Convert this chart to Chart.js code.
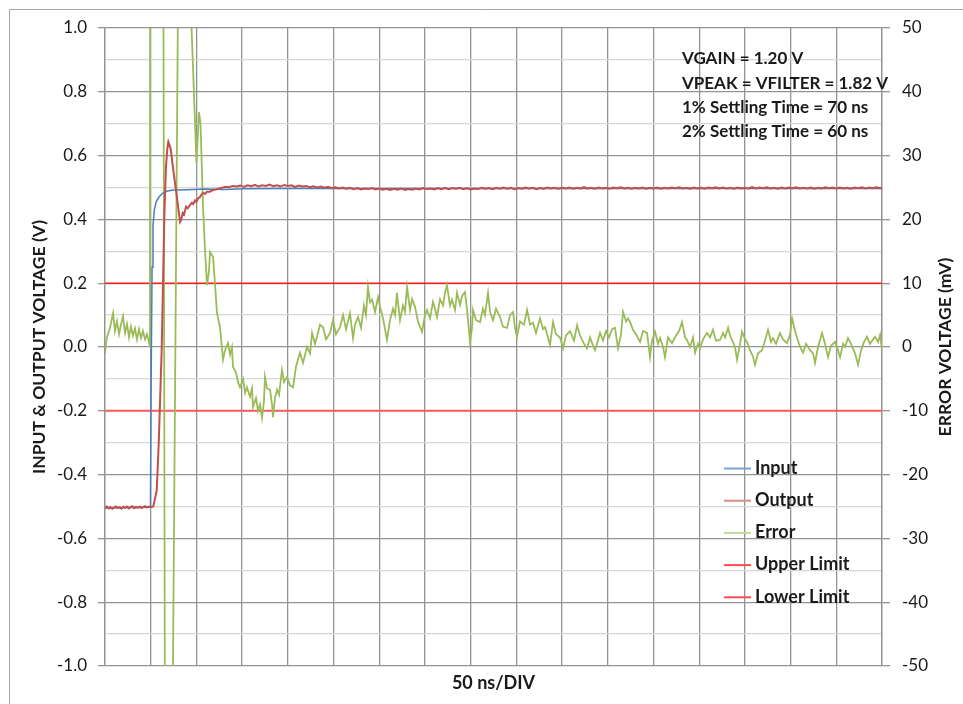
<!DOCTYPE html>
<html>
<head>
<meta charset="utf-8">
<script src="https://cdn.jsdelivr.net/npm/chart.js@4/dist/chart.umd.min.js"></script>
<style>
html,body{margin:0;padding:0;background:#fff;}
#wrap{width:963px;height:704px;}
</style>
</head>
<body>
<div id="wrap"><canvas id="c" width="963" height="704"></canvas></div>
<script>
// ---------------- DATA (time in ns, voltages in V, error in mV) ----------------
const seriesNames = ["Input", "Output", "Error", "Upper Limit", "Lower Limit"];
const annotationLines = ["VGAIN = 1.20 V", "VPEAK = VFILTER = 1.82 V", "1% Settling Time = 70 ns", "2% Settling Time = 60 ns"];
const xAxisTitle = "50 ns/DIV";
const leftAxisTitle = "INPUT & OUTPUT VOLTAGE (V)";
const rightAxisTitle = "ERROR VOLTAGE (mV)";
const timeRangeNs = [0, 850];
const timePerDivNs = 50;
const voltRange = [-1.0, 1.0];
const errorRangeMv = [-50, 50];
const upperLimitMv = 10;
const lowerLimitMv = -10;

const inputPts = [[0,-0.505],[25,-0.503],[49.3,-0.502],[49.8,-0.45],[50.5,-0.1],[51.5,0.25],[52.5,0.38],[54,0.43],[56,0.455],[59,0.47],[63,0.482],[68,0.489],[75,0.492],[90,0.493],[110,0.495],[130,0.494],[150,0.496],[200,0.497],[850,0.497]];

const outputPts = [[0,-0.505],[2,-0.500],[4,-0.506],[6,-0.502],[8,-0.507],[10,-0.503],[12,-0.500],[14,-0.505],[16,-0.502],[18,-0.507],[20,-0.501],[22,-0.504],[24,-0.500],[26,-0.506],[28,-0.502],[30,-0.499],[32,-0.505],[34,-0.501],[36,-0.504],[38,-0.500],[40,-0.505],[42,-0.502],[44,-0.499],[46,-0.503],[48,-0.500],[50,-0.502],[52.8,-0.500],[56.6,-0.45],[58.8,-0.30],[62.0,-0.01],[63.8,0.25],[64.9,0.41],[66.7,0.565],[68.3,0.625],[69.3,0.643],[70.3,0.635],[71.9,0.62],[74,0.57],[76.6,0.514],[79.1,0.46],[82.1,0.392],[83.5,0.40],[85,0.42],[86.5,0.415],[88.6,0.44],[90.5,0.435],[93,0.445],[95,0.452],[96.5,0.448],[98.5,0.46],[100,0.455],[102.1,0.467],[104,0.470],[105.5,0.478],[107.5,0.483],[109.5,0.480],[111.5,0.487],[114.9,0.487],[118,0.492],[121,0.494],[123.5,0.496],[125.8,0.498],[129,0.500],[132,0.502],[135,0.501],[140,0.505],
[144,0.503],[148,0.506],[152,0.502],[156,0.507],[160,0.504],[164,0.508],[168,0.503],[172,0.507],[176,0.505],[180,0.509],[184,0.504],[188,0.507],[192,0.503],[196,0.508],[200,0.505],[204,0.507],[208,0.502],[212,0.506],[216,0.503],[220,0.505],[224,0.501],[228,0.504],[232,0.500],[236,0.503],[240,0.499],[244,0.502],[248,0.498],[252,0.501],[256,0.497],[260,0.500],[264,0.496],[268,0.499],[272,0.495],[276,0.498],[280,0.494],[284,0.497],[288,0.495],[292,0.498],[296,0.494],[300,0.497],[304,0.493],[308,0.496],[312,0.492],[316,0.496],[320,0.493],[324,0.497],[328,0.492],[332,0.495],[336,0.493],[340,0.497],[344,0.494],[348,0.498],[352,0.495],[356,0.497],[360,0.494],[364,0.498],[368,0.495],[372,0.499],[376,0.495],[380,0.498],[384,0.496],[388,0.499],[392,0.495],[396,0.498],[400,0.494],[404,0.497],[408,0.495],[412,0.499],[416,0.496],[420,0.498],[424,0.495],[428,0.499],[432,0.496],[436,0.500],[440,0.496],[444,0.499],[448,0.495],[452,0.498],[456,0.496],[460,0.500],[464,0.497],[468,0.499],[472,0.495],[476,0.498],[480,0.496],[484,0.500],[488,0.497],[492,0.499],[496,0.496],[500,0.499],[504,0.497],[508,0.500],[512,0.496],[516,0.499],[520,0.497],[524,0.501],[528,0.497],[532,0.499],[536,0.496],[540,0.500],[544,0.497],[548,0.499],[552,0.496],[556,0.500],[560,0.498],[564,0.501],[568,0.497],[572,0.499],[576,0.496],[580,0.499],[584,0.497],[588,0.500],[592,0.496],[596,0.499],[600,0.497],[604,0.500],[608,0.496],[612,0.499],[616,0.497],[620,0.500],[624,0.498],[628,0.501],[632,0.497],[636,0.499],[640,0.496],[644,0.500],[648,0.497],[652,0.499],[656,0.496],[660,0.500],[664,0.498],[668,0.501],[672,0.497],[676,0.500],[680,0.497],[684,0.499],[688,0.496],[692,0.500],[696,0.497],[700,0.499],[704,0.497],[708,0.501],[712,0.497],[716,0.500],[720,0.498],[724,0.501],[728,0.497],[732,0.499],[736,0.496],[740,0.500],[744,0.497],[748,0.500],[752,0.498],[756,0.501],[760,0.497],[764,0.499],[768,0.497],[772,0.500],[776,0.496],[780,0.499],[784,0.497],[788,0.501],[792,0.498],[796,0.500],[800,0.497],[804,0.500],[808,0.497],[812,0.499],[816,0.496],[820,0.500],[824,0.498],[828,0.501],[832,0.497],[836,0.500],[840,0.498],[844,0.501],[848,0.498],[850,0.500]];

const errorPts = [[0,-1.0],[2,1.5],[5.5,3.0],[8.8,5.3],[10.9,2.5],[13.1,4.0],[15.3,2.0],[17.5,3.5],[19.7,4.8],[21.9,2.2],[24.1,3.6],[26.3,1.5],[28.4,3.2],[30.6,1.8],[32.8,2.9],[35,1.2],[37.2,2.8],[39.4,1.4],[41.6,2.5],[43.8,1.2],[46,2.0],[48.1,0.8],[49.2,0.0],[49.5,200],[63.9,55],[65.5,-55],[74.1,-55],[79.9,55],[94.2,52],[100.1,28.8],[102.8,36.8],[104.5,35.0],[107.2,22.0],[109.4,15.2],[111.6,9.7],[113.8,12.0],[114.9,14.9],[118.2,14.1],[120.3,10.0],[122.5,5.3],[125.8,3.1],[127.5,0.5],[129.1,-2.0],[131.3,-0.5],[134.6,0.6],[136.8,-1.2],[138.9,0.0],[140,-3.1],[143.3,-4.0],[145.5,-5.5],[147.7,-6.3],[151,-5.0],[153.2,-7.2],[155.3,-6.3],[158.6,-7.8],[160.8,-6.5],[161.9,-9.4],[165.2,-8.0],[167.4,-10.0],[169.6,-9.0],[171.8,-11.1],[173.9,-8.5],[175,-4.7],[177.2,-6.5],[180.5,-6.7],[182.7,-9.0],[183.8,-11.0],[186,-8.0],[188.2,-6.7],[190.4,-7.5],[193.6,-3.6],[195.8,-5.5],[199.1,-4.7],[202.4,-6.0],[205.7,-6.3],[209,-3.0],[213.3,-0.9],[216.6,-2.5],[221,0.0],[224.3,-1.0],[226.5,2.2],[229.7,0.5],[231.9,1.6],[235.2,3.5],[238.5,3.1],[241.8,1.2],[246.2,2.2],[249.4,4.2],[252.7,2.0],[257.1,3.1],[260.4,5.0],[263.7,2.8],[268,5.3],[271.3,1.4],[273.5,3.5],[276.8,4.7],[280.1,3.0],[283.3,6.5],[285.5,5.0],[287.7,9.4],[289.9,7.0],[292.1,7.4],[295.4,5.5],[298.7,7.8],[300.9,6.3],[304.1,4.5],[308.5,1.1],[311.8,4.2],[315,6.0],[317.3,5.0],[319.4,8.5],[322.7,4.2],[326,6.5],[328.2,5.5],[330.4,9.4],[333.7,5.8],[335.9,7.5],[339.1,6.3],[342.4,4.0],[346.8,2.4],[350.1,5.0],[352.3,5.8],[355.6,4.5],[358.8,7.1],[361,6.0],[363.2,4.7],[366.5,7.5],[369.8,6.5],[372,8.5],[374.1,9.7],[377.4,6.5],[379.6,7.4],[382.9,5.8],[385.1,8.5],[388.4,6.6],[390.6,8.0],[393.8,8.6],[396,6.0],[399.3,0.8],[401.5,3.0],[402.6,5.8],[405.9,4.2],[410.3,3.9],[413.5,6.0],[415.7,5.0],[419,8.5],[421.2,5.5],[424.5,4.2],[427.8,6.0],[432.1,4.7],[435.4,3.2],[439.8,3.0],[443.1,5.0],[446.4,5.5],[448.5,3.0],[450.7,1.6],[454,4.0],[458.4,3.5],[461.7,5.8],[465,3.5],[468.2,3.8],[471.5,2.2],[475.9,4.5],[479.2,2.8],[481.4,3.1],[484.6,1.5],[486.8,0.3],[490.1,3.9],[493.4,2.0],[497.8,1.5],[501.1,-0.2],[504.3,1.8],[508.7,2.5],[513.1,1.0],[516.4,3.4],[519.7,1.8],[524,0.5],[527.3,-0.2],[530.6,1.5],[533.9,0.2],[536.1,-0.5],[539.3,1.0],[541.5,2.2],[544.8,1.0],[548.1,2.5],[551.4,1.5],[554.7,2.8],[557.9,3.0],[561.2,-0.2],[564.5,2.0],[566.7,5.5],[570,4.0],[572.2,4.5],[574.4,3.9],[577.6,2.7],[580.9,2.0],[585.3,0.8],[588.6,2.5],[593,2.2],[596.2,-1.6],[598.4,1.0],[601.7,2.4],[605,0.5],[607.2,1.4],[610.5,0.0],[612.6,-1.6],[615.9,1.5],[620.3,0.6],[624.7,1.8],[628,2.5],[631.2,3.9],[634.5,1.5],[636.7,1.1],[640,0.0],[643.3,1.5],[645.5,-0.9],[648.7,0.5],[650.9,-0.2],[654.2,1.2],[658.6,2.2],[661.9,1.5],[665.1,2.7],[668.4,1.0],[672.8,1.1],[676.1,2.2],[678.3,1.5],[681.6,3.0],[683.8,1.8],[685.9,1.1],[689.2,0.0],[691.4,-2.0],[694.7,0.5],[696.9,2.4],[700.2,1.2],[702.3,0.8],[705.6,-0.5],[708.9,-1.5],[711.1,-2.8],[714.4,-1.0],[718.8,-0.5],[722,1.0],[725.3,2.7],[728.6,0.8],[730.8,1.4],[734.1,0.5],[738.4,2.2],[741.7,1.2],[746.1,0.6],[749.4,2.0],[751.6,4.5],[754.9,2.5],[757.1,1.4],[760.3,0.0],[763.6,-0.9],[766.9,0.5],[771.3,-0.5],[774.6,-1.0],[776.7,-2.5],[780,0.0],[784.4,2.2],[787.7,0.5],[791,-1.6],[794.2,0.2],[798.6,0.8],[801.9,-0.5],[804.1,-1.6],[807.4,0.5],[809.6,0.0],[812.8,1.4],[816.1,0.5],[820.5,-1.0],[823.8,-2.8],[827.1,-0.5],[830.3,0.8],[833.6,1.6],[836.9,0.5],[840.2,1.2],[842.4,1.6],[845.7,0.8],[847.9,1.9],[850,-0.5]];

// ---------------- STYLE ----------------
const FONT = "Lato, 'Open Sans', sans-serif";
const colors = {
  input: '#4a7ebb', output: '#c0504d', error: '#9bbb59', upper: '#ff1a1a', lower: '#ff5a5a',
  gridMajor: '#939393', gridMinor: '#d6d6d6', text: '#1a1a1a'
};
const legendColors = ['#7ba2d6', '#d98c8a', '#c3d69b', '#ff4d4d', '#ff4d4d'];

const toXY = arr => arr.map(p => ({x: p[0], y: p[1]}));

const frameAndText = {
  id: 'frameAndText',
  beforeDraw(chart) {
    const ctx = chart.ctx;
    ctx.save();
    ctx.fillStyle = '#ffffff';
    ctx.fillRect(0, 0, chart.width, chart.height);
    ctx.strokeStyle = '#a6a6a6';
    ctx.lineWidth = 1;
    ctx.beginPath();
    ctx.moveTo(9.5, chart.height); ctx.lineTo(9.5, 9.5); ctx.lineTo(chart.width, 9.5);
    ctx.stroke();
    ctx.restore();
  },
  afterDraw(chart) {
    const ctx = chart.ctx;
    const area = chart.chartArea;
    ctx.save();
    ctx.fillStyle = colors.text;
    ctx.textBaseline = 'middle';
    ctx.textAlign = 'left';
    // annotation block
    ctx.font = "bold 17px " + FONT;
    annotationLines.forEach((t, i) => ctx.fillText(t, area.right - 200, area.top + 31 + i * 24.2));
    // legend
    ctx.font = "bold 18px " + FONT;
    const lx = area.right - 158, ly = area.bottom - 198;
    chart.data.datasets.forEach((ds, i) => {
      const y = ly + i * 32.2;
      ctx.strokeStyle = legendColors[i];
      ctx.lineWidth = 2;
      ctx.beginPath(); ctx.moveTo(lx, y + 0.5); ctx.lineTo(lx + 27, y + 0.5); ctx.stroke();
      ctx.fillStyle = colors.text;
      ctx.fillText(ds.label, lx + 31, y);
    });
    // right axis title (reads bottom-to-top)
    ctx.font = "bold 17.5px " + FONT;
    ctx.translate(945, (area.top + area.bottom) / 2);
    ctx.rotate(-Math.PI / 2);
    ctx.textAlign = 'center';
    ctx.fillText(rightAxisTitle, 0, 0);
    ctx.restore();
  }
};

const isMajorV = v => Math.round(v * 10) % 2 === 0;

new Chart(document.getElementById('c'), {
  type: 'line',
  data: {
    datasets: [
      {label: seriesNames[0], data: toXY(inputPts), yAxisID: 'y', borderColor: colors.input, borderWidth: 1.5, order: 1},
      {label: seriesNames[1], data: toXY(outputPts), yAxisID: 'y', borderColor: colors.output, borderWidth: 2, order: 0},
      {label: seriesNames[2], data: toXY(errorPts), yAxisID: 'y2', borderColor: colors.error, borderWidth: 1.8, order: 2},
      {label: seriesNames[3], data: [{x: timeRangeNs[0], y: upperLimitMv}, {x: timeRangeNs[1], y: upperLimitMv}], yAxisID: 'y2', borderColor: colors.upper, borderWidth: 1.5, order: 3},
      {label: seriesNames[4], data: [{x: timeRangeNs[0], y: lowerLimitMv}, {x: timeRangeNs[1], y: lowerLimitMv}], yAxisID: 'y2', borderColor: colors.lower, borderWidth: 2, order: 4}
    ]
  },
  options: {
    responsive: false,
    animation: false,
    devicePixelRatio: 1,
    layout: {padding: {top: 28, left: 0, right: 0, bottom: 0}},
    elements: {point: {radius: 0}, line: {tension: 0, fill: false}},
    plugins: {legend: {display: false}, tooltip: {enabled: false}},
    scales: {
      x: {
        type: 'linear', position: 'bottom', min: timeRangeNs[0], max: timeRangeNs[1],
        ticks: {display: false, stepSize: timePerDivNs},
        grid: {color: colors.gridMajor, lineWidth: 1.3, drawTicks: false},
        border: {display: false},
        title: {display: true, text: xAxisTitle, color: colors.text, font: {family: FONT, size: 18, weight: 'bold'}, padding: {top: 0, bottom: 10}},
        afterFit(s) { s.height = 38; }
      },
      y: {
        position: 'left', min: voltRange[0], max: voltRange[1],
        ticks: {
          stepSize: 0.1, autoSkip: false, padding: 11, color: colors.text,
          font: {family: FONT, size: 17},
          callback: v => isMajorV(v) ? (Math.abs(v) < 1e-9 ? '0.0' : v.toFixed(1)) : ''
        },
        grid: {
          color: c => isMajorV(c.tick.value) ? colors.gridMajor : colors.gridMinor,
          tickColor: c => isMajorV(c.tick.value) ? colors.gridMajor : 'rgba(0,0,0,0)',
          lineWidth: 1.3, tickLength: 7
        },
        border: {color: colors.gridMajor, width: 1.3},
        title: {display: true, text: leftAxisTitle, color: colors.text, font: {family: FONT, size: 17.5, weight: 'bold'}, padding: {top: 29, bottom: 0}},
        afterFit(s) { s.width = 105; }
      },
      y2: {
        position: 'right', min: errorRangeMv[0], max: errorRangeMv[1],
        ticks: {stepSize: 10, padding: 12, color: colors.text, font: {family: FONT, size: 17}},
        grid: {drawOnChartArea: false, color: colors.gridMajor, lineWidth: 1.3, tickLength: 8},
        border: {color: colors.gridMajor, width: 1.3},
        afterFit(s) { s.width = 81; }
      }
    }
  },
  plugins: [frameAndText]
});
</script>
</body>
</html>
